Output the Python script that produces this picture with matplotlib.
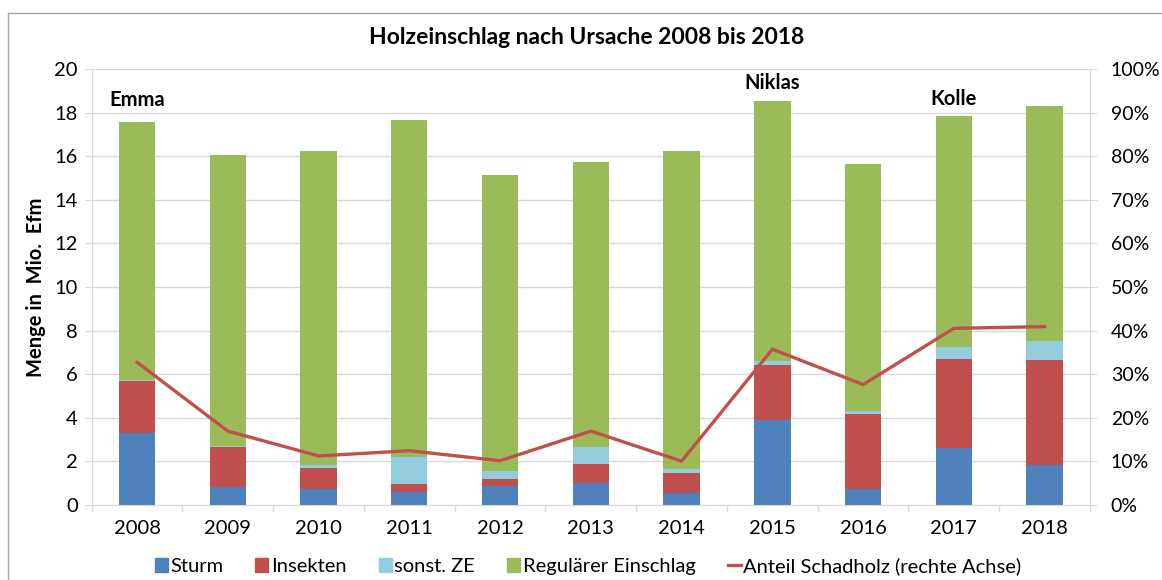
import numpy as np
import matplotlib.pyplot as plt
from matplotlib.patches import Patch
from matplotlib.lines import Line2D
from matplotlib.ticker import PercentFormatter, FixedLocator

plt.rcParams['font.family'] = ['Lato', 'DejaVu Sans']

years = ['2008', '2009', '2010', '2011', '2012', '2013', '2014', '2015', '2016', '2017', '2018']
sturm = [3.28, 0.83, 0.74, 0.60, 0.86, 1.01, 0.55, 3.90, 0.74, 2.62, 1.81]
insekten = [2.40, 1.81, 0.93, 0.36, 0.32, 0.86, 0.91, 2.52, 3.44, 4.09, 4.82]
sonst_ze = [0.04, 0.07, 0.14, 1.22, 0.35, 0.79, 0.17, 0.19, 0.14, 0.52, 0.88]
regulaer = [11.84, 13.37, 14.42, 15.51, 13.60, 13.07, 14.62, 11.95, 11.33, 10.61, 10.79]
anteil = [0.327, 0.169, 0.112, 0.124, 0.101, 0.169, 0.100, 0.357, 0.276, 0.405, 0.409]

sturm_namen = ['Emma', 'Niklas', 'Kolle']
sturm_jahr = ['2008', '2015', '2017']
sturm_y = [18.6, 19.36, 18.62]

c_sturm = '#4F81BD'
c_insekt = '#C0504D'
c_sonst = '#93CDDD'
c_reg = '#9BBB59'
grau = '#D9D9D9'

W, H = 1162, 580
fig = plt.figure(figsize=(W / 100, H / 100), dpi=100)
ax = fig.add_axes([91.7 / W, 1 - 504.7 / H, (1090 - 91.7) / W, (504.7 - 69.3) / H])

x = np.arange(len(years))
b = 0.4
bottom = np.zeros(len(years))
for vals, col in [(sturm, c_sturm), (insekten, c_insekt), (sonst_ze, c_sonst), (regulaer, c_reg)]:
    ax.bar(x, vals, b, bottom=bottom, color=col, zorder=2)
    bottom = bottom + np.array(vals)

fs = 14.5
ax.set_xlim(-0.5, len(years) - 0.5)
ax.set_ylim(0, 20)
ax.set_yticks(np.arange(0, 21, 2))
ax.set_xticks(x)
ax.set_xticklabels(years)
ax.xaxis.set_minor_locator(FixedLocator(np.arange(-0.5, len(years), 1)))
ax.tick_params(axis='x', which='major', length=0, labelsize=fs, pad=11)
ax.tick_params(axis='x', which='minor', length=5, color=grau, width=1)
ax.tick_params(axis='y', length=5, color=grau, labelsize=fs, pad=5)
ax.grid(axis='y', color=grau, lw=1, zorder=0)
ax.set_axisbelow(True)
for s in ['top', 'right']:
    ax.spines[s].set_visible(False)
for s in ['left', 'bottom']:
    ax.spines[s].set_color(grau)
ax.set_ylabel('Menge in  Mio.  Efm', fontsize=fs, fontweight='bold', labelpad=6)

for name, j, yv in zip(sturm_namen, sturm_jahr, sturm_y):
    ax.text(years.index(j), yv, name, ha='center', va='center', fontsize=fs, fontweight='bold')

ax2 = ax.twinx()
ax2.plot(x, anteil, color=c_insekt, lw=2.4, zorder=3)
ax2.set_ylim(0, 1)
ax2.set_yticks(np.arange(0, 1.01, 0.1))
ax2.yaxis.set_major_formatter(PercentFormatter(1.0, decimals=0))
ax2.tick_params(axis='y', length=5, color=grau, labelsize=14, pad=10)
for s in ['top', 'left', 'bottom']:
    ax2.spines[s].set_visible(False)
ax2.spines['right'].set_color(grau)

fig.text(0.505, 1 - 38 / H, 'Holzeinschlag nach Ursache 2008 bis 2018', ha='center', va='center',
         fontsize=16.5, fontweight='bold')

handles = [Patch(color=c_sturm), Patch(color=c_insekt), Patch(color=c_sonst), Patch(color=c_reg),
           Line2D([], [], color=c_insekt, lw=2.4)]
labels = ['Sturm', 'Insekten', 'sonst. ZE', 'Regulärer Einschlag', 'Anteil Schadholz (rechte Achse)']
fig.legend(handles, labels, loc='center', bbox_to_anchor=(0.506, 1 - 566 / H), ncol=5, frameon=False,
           fontsize=fs, handlelength=0.65, handleheight=0.65, handletextpad=0.12, columnspacing=1.6)

# Rahmen
fig.add_artist(Line2D([8 / W, 8 / W], [0, 1 - 13 / H], color='#A6A6A6', lw=1))
fig.add_artist(Line2D([8 / W, 1], [1 - 13 / H, 1 - 13 / H], color='#A6A6A6', lw=1))

fig.savefig('out.png', dpi=100)
